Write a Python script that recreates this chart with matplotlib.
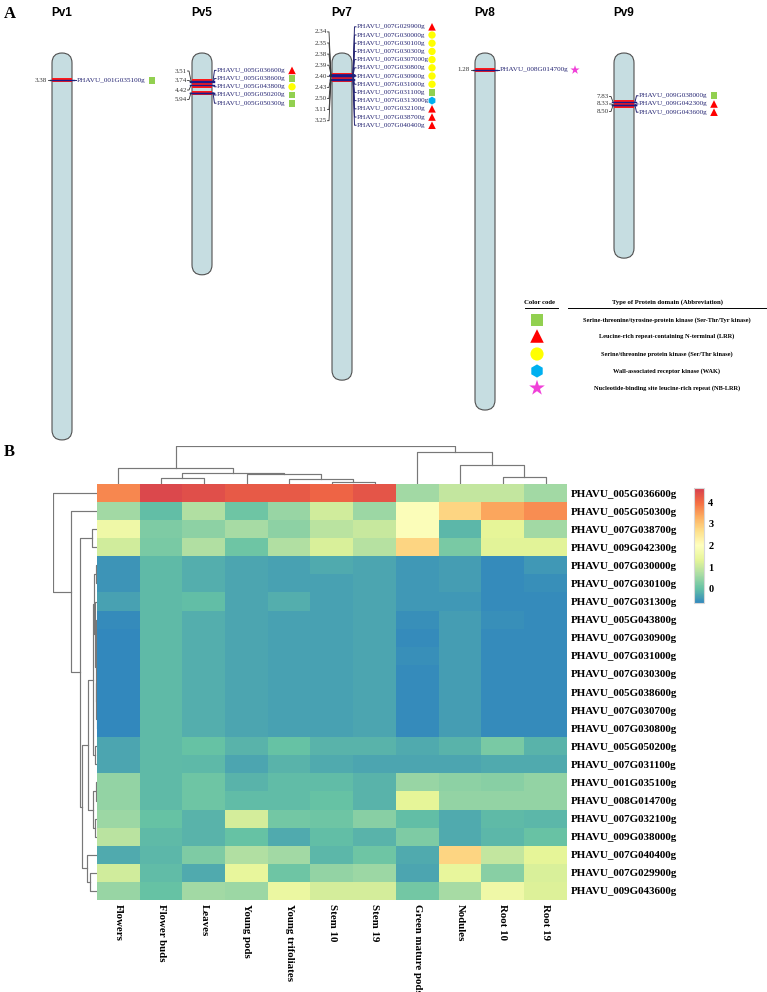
import numpy as np
import matplotlib
matplotlib.use("Agg")
import matplotlib.pyplot as plt
from matplotlib.colors import LinearSegmentedColormap
from matplotlib.patches import FancyBboxPatch, Rectangle

# ---------------- panel A data ----------------
chroms = ["Pv1", "Pv5", "Pv7", "Pv8", "Pv9"]
chrom_len = [74.6, 40.9, 62.4, 68.5, 37.5]  # Mb, as drawn

pv1_genes = ["PHAVU_001G035100g"]
pv1_pos = [3.38]
pv1_dom = ["STY"]

pv5_genes = ["PHAVU_005G036600g", "PHAVU_005G038600g", "PHAVU_005G043800g",
             "PHAVU_005G050200g", "PHAVU_005G050300g"]
pv5_pos = [3.51, 3.74, 4.42, 5.94, 5.94]
pv5_dom = ["LRR", "STY", "ST", "STY", "STY"]

pv7_genes = ["PHAVU_007G029900g", "PHAVU_007G030000g", "PHAVU_007G030100g",
             "PHAVU_007G030300g", "PHAVU_007G0307000g", "PHAVU_007G030800g",
             "PHAVU_007G030900g", "PHAVU_007G031000g", "PHAVU_007G031100g",
             "PHAVU_007G0313000g", "PHAVU_007G032100g", "PHAVU_007G038700g",
             "PHAVU_007G040400g"]
pv7_pos = [2.34, 2.35, 2.35, 2.38, 2.39, 2.39, 2.39, 2.40, 2.40, 2.43, 2.50, 3.11, 3.25]
pv7_dom = ["LRR", "ST", "ST", "ST", "ST", "ST", "ST", "ST", "STY", "WAK", "LRR", "LRR", "LRR"]

pv8_genes = ["PHAVU_008G014700g"]
pv8_pos = [1.28]
pv8_dom = ["NB"]

pv9_genes = ["PHAVU_009G038000g", "PHAVU_009G042300g", "PHAVU_009G043600g"]
pv9_pos = [7.83, 8.33, 8.50]
pv9_dom = ["STY", "LRR", "LRR"]

dom_codes = ["STY", "LRR", "ST", "WAK", "NB"]
dom_labels = ["Serine-threonine/tyrosine-protein kinase (Ser-Thr/Tyr kinase)",
              "Leucine-rich repeat-containing N-terminal (LRR)",
              "Serine/threonine protein kinase (Ser/Thr kinase)",
              "Wall-associated receptor kinase (WAK)",
              "Nucleotide-binding site leucine-rich repeat (NB-LRR)"]

# ---------------- panel B data ----------------
tissues = ["Flowers", "Flower buds", "Leaves", "Young pods", "Young trifoliates",
           "Stem 10", "Stem 19", "Green mature pods", "Nodules", "Root 10", "Root 19"]
hm_genes = ["PHAVU_005G036600g", "PHAVU_005G050300g", "PHAVU_007G038700g",
            "PHAVU_009G042300g", "PHAVU_007G030000g", "PHAVU_007G030100g",
            "PHAVU_007G031300g", "PHAVU_005G043800g", "PHAVU_007G030900g",
            "PHAVU_007G031000g", "PHAVU_007G030300g", "PHAVU_005G038600g",
            "PHAVU_007G030700g", "PHAVU_007G030800g", "PHAVU_005G050200g",
            "PHAVU_007G031100g", "PHAVU_001G035100g", "PHAVU_008G014700g",
            "PHAVU_007G032100g", "PHAVU_009G038000g", "PHAVU_007G040400g",
            "PHAVU_007G029900g", "PHAVU_009G043600g"]
expr = np.array([
    [3.7, 4.5, 4.4, 4.25, 4.25, 4.1, 4.3, 0.6, 0.95, 0.95, 0.6],
    [0.6, -0.02, 0.75, 0.1, 0.5, 1.1, 0.55, 1.9, 2.8, 3.4, 3.65],
    [1.6, 0.25, 0.4, 0.65, 0.4, 0.85, 1.0, 1.9, -0.1, 1.35, 0.6],
    [1.1, 0.2, 0.75, 0.1, 0.75, 1.2, 0.8, 2.8, 0.2, 1.3, 1.3],
    [-0.5, -0.06, -0.2, -0.3, -0.35, -0.25, -0.3, -0.45, -0.4, -0.6, -0.45],
    [-0.5, -0.06, -0.2, -0.3, -0.35, -0.35, -0.3, -0.45, -0.4, -0.6, -0.55],
    [-0.35, -0.06, -0.02, -0.3, -0.2, -0.35, -0.3, -0.45, -0.45, -0.6, -0.6],
    [-0.6, -0.06, -0.2, -0.3, -0.35, -0.35, -0.3, -0.55, -0.4, -0.55, -0.6],
    [-0.65, -0.06, -0.2, -0.3, -0.35, -0.35, -0.3, -0.6, -0.4, -0.6, -0.6],
    [-0.65, -0.06, -0.2, -0.3, -0.35, -0.35, -0.3, -0.55, -0.4, -0.6, -0.6],
    [-0.65, -0.06, -0.2, -0.3, -0.35, -0.35, -0.3, -0.6, -0.4, -0.6, -0.6],
    [-0.65, -0.06, -0.2, -0.3, -0.35, -0.35, -0.3, -0.6, -0.4, -0.6, -0.6],
    [-0.65, -0.06, -0.2, -0.3, -0.35, -0.35, -0.3, -0.6, -0.4, -0.6, -0.6],
    [-0.65, -0.06, -0.2, -0.3, -0.35, -0.35, -0.3, -0.6, -0.4, -0.6, -0.6],
    [-0.3, -0.06, 0.02, -0.15, 0.03, -0.15, -0.15, -0.25, -0.15, 0.2, -0.15],
    [-0.3, -0.06, -0.08, -0.3, -0.15, -0.25, -0.3, -0.3, -0.3, -0.25, -0.25],
    [0.45, -0.05, 0.1, -0.15, -0.03, -0.03, -0.15, 0.5, 0.4, 0.35, 0.45],
    [0.45, -0.07, 0.1, -0.03, -0.03, 0.03, -0.15, 1.35, 0.45, 0.45, 0.45],
    [0.55, 0.03, -0.15, 1.15, 0.15, 0.1, 0.35, -0.02, -0.25, -0.05, -0.1],
    [0.85, -0.07, -0.15, 0.03, -0.25, -0.02, -0.15, 0.25, -0.25, -0.1, 0.05],
    [-0.25, -0.1, 0.25, 0.75, 0.6, -0.1, 0.1, -0.25, 2.8, 0.95, 1.35],
    [1.1, -0.03, -0.25, 1.4, 0.1, 0.45, 0.55, -0.3, 1.4, 0.35, 1.2],
    [0.5, 0.03, 0.6, 0.55, 1.5, 1.15, 1.15, 0.15, 0.65, 1.6, 1.25],
])
vmin, vmax = -0.65, 4.65

# dendrograms: (left, right, height), leaves are display indices
col_tree = ((0, ((1, 2, 6.0), (3, (4, (5, 6, 2.3), 5.0), 9.7), 10.7), 16.0),
            (7, (8, (9, 10, 7.3), 19.0), 31.7), 38.0)
blue = ((4, 5, 1.2), (6, ((7, (8, 9, 0.5), 0.8), ((10, 11, 0.4), (12, 13, 0.3), 0.7), 1.0), 1.8), 2.6)
sub_a = ((blue, (14, 15, 2.0), 3.7), ((16, 17, 1.5), (18, 19, 2.5), 4.5), 8.7)
sub_b = (20, (21, 22, 7.0), 10.3)
row_tree = (0, (1, ((2, 3, 5.3), (sub_a, sub_b, 15.3), 17.0), 26.3), 44.3)

# ---------------- style ----------------
W, H = 767, 992
serif = "Liberation Serif"
sans = "Liberation Sans"
navy = "#262673"
chrom_fc = "#c6dde1"
dom_style = {"STY": ("s", "#92d050"), "LRR": ("^", "#ff0000"), "ST": ("o", "#ffff00"),
             "WAK": ("h", "#00b0f0"), "NB": ("*", "#f040d8")}
dom_size = {"s": 24, "^": 30, "o": 28, "h": 32, "*": 48}

fig = plt.figure(figsize=(W / 100, H / 100), dpi=100)
ax = fig.add_axes([0, 0, 1, 1])
ax.set_xlim(0, W)
ax.set_ylim(H, 0)
ax.axis("off")

# ---------------- panel A ----------------
chrom_x = [62, 202, 342, 485, 624]
cw = 20
top = 53
pad = 10.7
mb_px = 4.9
gap_r = 8.2
gap_l = [8.2, 9.5, 11.1, 8.2, 7.5]

genes_all = [pv1_genes, pv5_genes, pv7_genes, pv8_genes, pv9_genes]
pos_all = [pv1_pos, pv5_pos, pv7_pos, pv8_pos, pv9_pos]
dom_all = [pv1_dom, pv5_dom, pv7_dom, pv8_dom, pv9_dom]


def spread(ys, gap):
    ys = np.asarray(ys, dtype=float)
    n = len(ys)
    return ys.mean() + (np.arange(n) - (n - 1) / 2) * gap


ax.text(4, 14, "A", fontsize=12, fontweight="bold", family=serif, va="center", ha="left")

for k, name in enumerate(chroms):
    cx = chrom_x[k]
    bottom = top + 2 * pad + chrom_len[k] * mb_px
    ax.add_patch(FancyBboxPatch((cx - cw / 2, top), cw, bottom - top,
                                boxstyle="round,pad=0,rounding_size=10",
                                fc=chrom_fc, ec="#505050", lw=0.8, zorder=2))
    ax.text(cx, 13, name, fontsize=8.5, fontweight="bold", family=sans, ha="center", va="center")

    gy = top + pad + np.array(pos_all[k]) * mb_px
    for y in gy:
        ax.add_patch(Rectangle((cx - cw / 2, y - 2.2), cw, 4.4, fc="#ff1a1a", ec="none", zorder=3))
    for y in gy:
        ax.plot([cx - cw / 2 - 2, cx + cw / 2 + 2], [y, y], color="#1a1a8c", lw=1.0, zorder=4)

    # gene labels on the right
    ly = spread(gy, gap_r) if len(gy) > 1 else gy
    xr = cx + cw / 2
    for g, y, yl, d in zip(genes_all[k], gy, ly, dom_all[k]):
        ax.plot([xr + 1, xr + 2.5, xr + 4], [y, yl, yl], color=navy, lw=0.7, zorder=4)
        ax.text(xr + 5, yl, g, fontsize=5.2, family=serif, color=navy, va="center", ha="left")
        m, c = dom_style[d]
        ax.scatter(xr + 80, yl, marker=m, s=dom_size[m], color=c, edgecolors="none", zorder=5)

    # position labels on the left
    upos = sorted(set(pos_all[k]))
    uy = [gy[np.array(pos_all[k]) == p].mean() for p in upos]
    uly = spread(uy, gap_l[k]) if len(uy) > 1 else uy
    xl = cx - cw / 2
    for p, y, yl in zip(upos, uy, uly):
        ax.plot([xl - 1, xl - 3, xl - 4.5], [y, yl, yl], color="#333333", lw=0.6, zorder=4)
        ax.text(xl - 5, yl, "%.2f" % p, fontsize=5.0, family=serif, color="#333333",
                va="center", ha="right")

# legend of domains
ax.text(540, 302, "Color code", fontsize=4.8, fontweight="bold", family=serif, ha="center", va="center")
ax.text(667, 302, "Type of Protein domain (Abbreviation)", fontsize=4.8, fontweight="bold",
        family=serif, ha="center", va="center")
ax.plot([525, 558], [308, 308], color="black", lw=0.7)
ax.plot([568, 766], [308, 308], color="black", lw=0.7)
leg_y = [320, 336, 354, 371, 388]
leg_size = {"s": 80, "^": 95, "o": 90, "h": 90, "*": 140}
for code, lab, y in zip(dom_codes, dom_labels, leg_y):
    m, c = dom_style[code]
    ax.scatter(537, y, marker=m, s=leg_size[m], color=c, edgecolors="none")
    ax.text(667, y, lab, fontsize=4.6, fontweight="bold", family=serif, ha="center", va="center")

# ---------------- panel B ----------------
ax.text(4, 452, "B", fontsize=12, fontweight="bold", family=serif, va="center", ha="left")

hm_l, hm_r, hm_t, hm_b = 97, 567, 484, 900
cmap = LinearSegmentedColormap.from_list(
    "spec", ["#3288bd", "#66c2a5", "#abdda4", "#e6f598", "#ffffbf",
             "#fee08b", "#fdae61", "#f46d43", "#d53e4f"])

ax_h = fig.add_axes([hm_l / W, (H - hm_b) / H, (hm_r - hm_l) / W, (hm_b - hm_t) / H])
im = ax_h.imshow(expr, cmap=cmap, vmin=vmin, vmax=vmax, aspect="auto", interpolation="nearest")
ax_h.set_xticks(range(len(tissues)))
ax_h.set_xticklabels(tissues, rotation=-90, ha="center", va="top", fontsize=7.8,
                     fontweight="bold", family=serif)
ax_h.set_yticks(range(len(hm_genes)))
ax_h.set_yticklabels(hm_genes, fontsize=7.9, fontweight="bold", family=serif)
ax_h.yaxis.tick_right()
ax_h.tick_params(length=0, pad=3)
for s in ax_h.spines.values():
    s.set_visible(False)

dcol = "#787878"


def draw_tree(node, a, orient):
    if isinstance(node, int):
        return node, 0.0
    l, r, h = node
    cl, hl = draw_tree(l, a, orient)
    cr, hr = draw_tree(r, a, orient)
    if orient == "top":
        a.plot([cl, cl, cr, cr], [hl, h, h, hr], color=dcol, lw=0.85)
    else:
        a.plot([hl, h, h, hr], [cl, cl, cr, cr], color=dcol, lw=0.85)
    return (cl + cr) / 2, h


col_h = col_tree[2]
ax_dc = fig.add_axes([hm_l / W, (H - hm_t) / H, (hm_r - hm_l) / W, col_h / H])
draw_tree(col_tree, ax_dc, "top")
ax_dc.set_xlim(-0.5, len(tissues) - 0.5)
ax_dc.set_ylim(0, col_h)
ax_dc.axis("off")

row_h = row_tree[2]
ax_dr = fig.add_axes([(hm_l - row_h) / W, (H - hm_b) / H, row_h / W, (hm_b - hm_t) / H])
draw_tree(row_tree, ax_dr, "left")
ax_dr.set_xlim(row_h, 0)
ax_dr.set_ylim(len(hm_genes) - 0.5, -0.5)
ax_dr.axis("off")

# colorbar
ax_c = fig.add_axes([694 / W, (H - 603) / H, 10 / W, 115 / H])
cb = fig.colorbar(im, cax=ax_c, ticks=[0, 1, 2, 3, 4])
cb.outline.set_edgecolor("#d8d8d8")
cb.outline.set_linewidth(0.8)
ax_c.tick_params(length=0, pad=3)
for t in ax_c.get_yticklabels():
    t.set_fontweight("bold")
    t.set_family(serif)
    t.set_fontsize(7.5)

fig.savefig("out.png", dpi=100)
